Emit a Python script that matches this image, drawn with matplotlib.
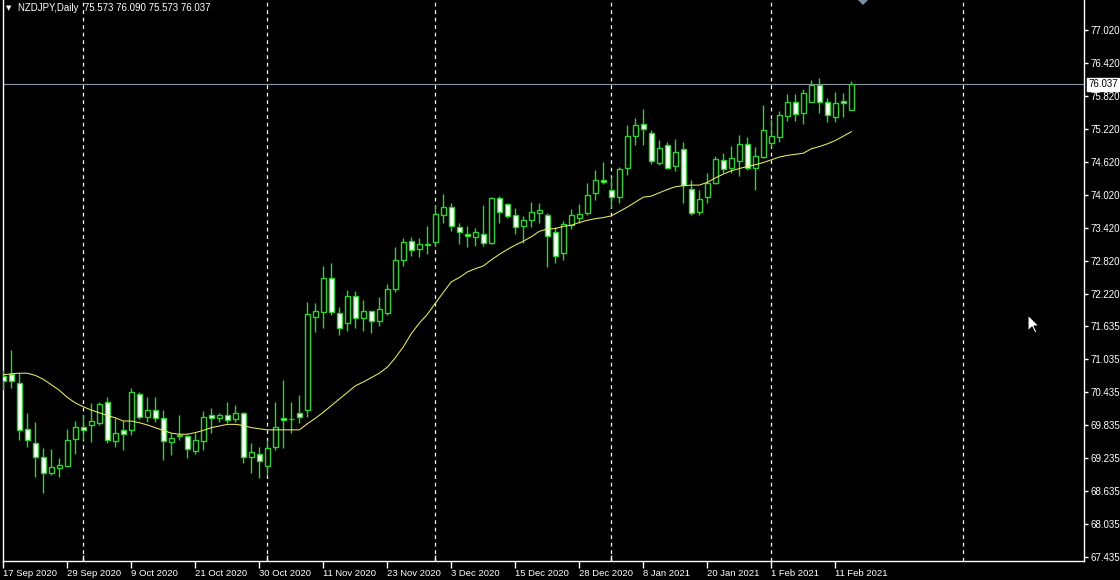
"""
NZDJPY daily candlestick chart, MT4 "green on black" look.
"""

import matplotlib
matplotlib.use("Agg")
import matplotlib.pyplot as plt
from matplotlib.patches import Rectangle, Polygon


# ============================================================================
# DATA
# ============================================================================

SYMBOL = "NZDJPY,Daily"

opens = [70.73, 70.76, 70.60, 69.76, 69.51, 69.26, 68.97, 69.05, 69.09, 69.58,
         69.81, 69.83, 69.87, 70.25, 69.55, 69.75, 69.74, 70.40, 69.99, 70.11,
         69.96, 69.53, 69.63, 69.64, 69.37, 69.55, 70.02, 69.97, 70.02, 69.95,
         70.05, 69.26, 69.32, 69.10, 69.43, 69.97, 69.94, 70.05, 70.12, 71.80,
         71.89, 72.52, 71.88, 71.69, 72.18, 71.78, 71.91, 71.73, 71.87, 72.31,
         72.84, 73.18, 73.03, 73.12, 73.16, 73.66, 73.80, 73.44, 73.31, 73.26,
         73.32, 73.15, 73.96, 73.85, 73.66, 73.46, 73.57, 73.69, 73.66, 73.35,
         72.96, 73.47, 73.61, 73.69, 74.05, 74.29, 74.12, 73.98, 74.51, 75.10,
         75.31, 75.14, 74.61, 74.93, 74.55, 74.85, 74.13, 73.71, 73.98, 74.23,
         74.66, 74.51, 74.64, 74.95, 74.51, 74.72, 74.97, 75.08, 75.46, 75.71,
         75.51, 75.72, 76.02, 75.72, 75.43, 75.73, 75.573]

highs = [70.84, 71.20, 70.78, 70.05, 69.90, 69.42, 69.40, 69.23, 69.76, 69.92,
         70.02, 70.23, 70.26, 70.34, 69.96, 69.91, 70.51, 70.44, 70.34, 70.34,
         70.12, 69.69, 70.02, 69.66, 69.69, 70.10, 70.14, 70.06, 70.26, 70.20,
         70.08, 69.51, 69.44, 69.57, 70.26, 70.66, 70.26, 70.38, 72.07, 72.06,
         72.73, 72.79, 71.99, 72.29, 72.27, 72.11, 71.92, 72.16, 72.41, 73.08,
         73.23, 73.26, 73.23, 73.46, 73.84, 74.04, 73.88, 73.52, 73.46, 73.42,
         73.84, 73.99, 74.00, 73.88, 73.78, 73.63, 73.89, 73.87, 73.69, 73.44,
         73.54, 73.76, 73.86, 74.23, 74.47, 74.62, 74.34, 74.53, 75.29, 75.42,
         75.58, 75.20, 75.02, 74.99, 75.03, 74.99, 74.29, 74.12, 74.42, 74.73,
         74.78, 74.91, 75.12, 75.08, 74.90, 75.66, 75.40, 75.54, 75.86, 75.86,
         75.94, 76.12, 76.14, 75.78, 75.90, 75.87, 76.090]

lows = [70.48, 70.51, 69.57, 69.44, 68.89, 68.61, 68.93, 68.89, 69.08, 69.32,
        69.57, 69.53, 69.84, 69.51, 69.44, 69.38, 69.66, 69.94, 69.90, 69.90,
        69.20, 69.29, 69.57, 69.23, 69.32, 69.38, 69.69, 69.90, 69.87, 69.90,
        69.14, 68.96, 68.87, 68.93, 69.38, 69.42, 69.69, 69.88, 69.99, 71.53,
        71.60, 71.84, 71.47, 71.55, 71.60, 71.55, 71.51, 71.64, 71.84, 72.25,
        72.73, 72.91, 72.89, 72.95, 73.09, 73.52, 73.37, 73.13, 73.08, 73.10,
        73.10, 73.13, 73.52, 73.61, 73.31, 73.14, 73.44, 73.51, 72.71, 72.79,
        72.84, 73.40, 73.51, 73.66, 73.93, 74.22, 73.78, 73.87, 74.38, 74.93,
        74.93, 74.58, 74.57, 74.49, 74.46, 73.87, 73.66, 73.66, 73.87, 74.22,
        74.42, 74.42, 74.37, 74.47, 74.11, 74.69, 74.89, 74.99, 75.37, 75.37,
        75.32, 75.71, 75.52, 75.35, 75.35, 75.43, 75.573]

closes = [70.63, 70.64, 69.75, 69.57, 69.25, 68.96, 69.07, 69.11, 69.57, 69.80,
          69.74, 69.91, 70.22, 69.57, 69.69, 69.67, 70.43, 69.99, 70.11, 69.97,
          69.54, 69.60, 69.66, 69.40, 69.57, 69.98, 69.97, 70.02, 69.93, 70.05,
          69.26, 69.34, 69.19, 69.42, 69.81, 69.93, 69.95, 69.98, 71.85, 71.91,
          72.52, 71.89, 71.61, 72.18, 71.78, 71.91, 71.73, 71.94, 72.32, 72.84,
          73.17, 73.02, 73.13, 73.13, 73.67, 73.80, 73.46, 73.34, 73.28, 73.34,
          73.14, 73.96, 73.71, 73.64, 73.44, 73.56, 73.71, 73.75, 73.28, 72.92,
          73.49, 73.66, 73.67, 74.02, 74.29, 74.25, 73.98, 74.49, 75.09, 75.29,
          75.22, 74.64, 74.87, 74.52, 74.80, 74.20, 73.70, 73.94, 74.23, 74.67,
          74.49, 74.69, 74.95, 74.51, 74.73, 75.20, 75.09, 75.47, 75.71, 75.49,
          75.88, 76.02, 75.71, 75.47, 75.69, 75.69, 76.037]

# moving average line (yellow), as drawn by the terminal
ma_values = [70.75, 70.77, 70.78, 70.78, 70.74, 70.67, 70.57, 70.47, 70.34, 70.24,
             70.17, 70.11, 70.06, 70.01, 69.97, 69.91, 69.91, 69.88, 69.84, 69.79,
             69.74, 69.69, 69.67, 69.67, 69.70, 69.74, 69.79, 69.82, 69.85, 69.85,
             69.83, 69.79, 69.77, 69.75, 69.75, 69.75, 69.75, 69.75, 69.86, 69.96,
             70.07, 70.19, 70.31, 70.43, 70.55, 70.62, 70.70, 70.78, 70.89, 71.06,
             71.26, 71.50, 71.69, 71.85, 72.05, 72.25, 72.44, 72.52, 72.62, 72.68,
             72.73, 72.84, 72.94, 73.03, 73.11, 73.18, 73.26, 73.36, 73.40, 73.41,
             73.45, 73.47, 73.52, 73.56, 73.59, 73.61, 73.64, 73.72, 73.80, 73.89,
             73.98, 74.00, 74.06, 74.12, 74.17, 74.19, 74.20, 74.20, 74.25, 74.33,
             74.40, 74.46, 74.50, 74.54, 74.57, 74.61, 74.66, 74.71, 74.74, 74.76,
             74.78, 74.86, 74.90, 74.95, 75.01, 75.09, 75.17]

# time axis labels (bar index -> text)
date_label_bars = [0, 8, 16, 24, 32, 40, 48, 56, 64, 72, 80, 88, 96, 104]
date_labels = ["17 Sep 2020", "29 Sep 2020", "9 Oct 2020", "21 Oct 2020",
               "30 Oct 2020", "11 Nov 2020", "23 Nov 2020", "3 Dec 2020",
               "15 Dec 2020", "28 Dec 2020", "8 Jan 2021", "20 Jan 2021",
               "1 Feb 2021", "11 Feb 2021"]

# month separators (bar index of first bar in month; last one is in the future)
month_start_bars = [10, 33, 54, 76, 96, 120]

price_ticks = [77.020, 76.420, 75.820, 75.220, 74.620, 74.020, 73.420, 72.820,
               72.220, 71.635, 71.035, 70.435, 69.835, 69.235, 68.635, 68.035,
               67.435]

# ============================================================================
# STYLE
# ============================================================================

BG = "black"
FG = "white"
CANDLE = "#30d030"
MA_COLOR = "#ecec66"
BID_COLOR = "#8a97a8"
FONT = "Liberation Sans"

W, H = 1120, 580
BAR_PX = 8.0          # pixels per bar
FIRST_BAR_PX = 3.3    # x pixel of first bar centre
PLOT_LEFT, PLOT_RIGHT, PLOT_BOTTOM = 2.5, 1084, 561
Y_TOP = 77.5655
PX_PER_UNIT = 55.0

fig = plt.figure(figsize=(W / 100, H / 100), dpi=100, facecolor=BG)
ax = fig.add_axes([PLOT_LEFT / W, (H - PLOT_BOTTOM) / H,
                   (PLOT_RIGHT - PLOT_LEFT) / W, PLOT_BOTTOM / H])
ax.set_facecolor(BG)

ax.set_xlim((PLOT_LEFT - FIRST_BAR_PX) / BAR_PX,
            (PLOT_RIGHT - FIRST_BAR_PX) / BAR_PX)
ax.set_ylim(Y_TOP - PLOT_BOTTOM / PX_PER_UNIT, Y_TOP)

# month grid
for b in month_start_bars:
    ax.axvline(b, color=FG, lw=0.9, ls=(0, (3, 3)), zorder=0)

# bid line
last_close = closes[-1]
ax.axhline(last_close, color=BID_COLOR, lw=0.8, zorder=1)

# candles
body_w = 0.62
for i, (o, h, l, c) in enumerate(zip(opens, highs, lows, closes)):
    top, bot = max(o, c), min(o, c)
    ax.plot([i, i], [top, h], color=CANDLE, lw=1, zorder=3,
            solid_capstyle="butt")
    ax.plot([i, i], [l, bot], color=CANDLE, lw=1, zorder=3,
            solid_capstyle="butt")
    fill = "white" if c < o else "black"
    ax.add_patch(Rectangle((i - body_w / 2, bot), body_w, top - bot,
                           facecolor=fill, edgecolor=CANDLE, lw=1, zorder=4))

# moving average
ax.plot(range(len(ma_values)), ma_values, color=MA_COLOR, lw=0.75, zorder=5)

# frame
for side in ("left", "bottom", "right"):
    ax.spines[side].set_color(FG)
    ax.spines[side].set_linewidth(1)
ax.spines["top"].set_visible(False)

# price axis
ax.yaxis.tick_right()
ax.set_yticks(price_ticks)
ax.set_yticklabels([f"{v:.3f}" for v in price_ticks])
ax.tick_params(axis="y", colors=FG, length=3, width=1, pad=2,
               labelsize=7, direction="out")
for lbl in ax.get_yticklabels():
    lbl.set_fontfamily(FONT)

# time axis
ax.set_xticks(date_label_bars)
ax.set_xticklabels(date_labels)
ax.set_xticks(month_start_bars[:-1], minor=True)
ax.tick_params(axis="x", which="major", colors=FG, length=5, width=1,
               pad=1, labelsize=6.8, direction="out")
ax.tick_params(axis="x", which="minor", colors=FG, length=4, width=1,
               direction="in")
for lbl in ax.get_xticklabels():
    lbl.set_horizontalalignment("left")
    lbl.set_fontfamily(FONT)

# current price tag
ax.annotate(f"{last_close:.3f}", xy=(1.0, last_close),
            xycoords=("axes fraction", "data"),
            xytext=(3, 0), textcoords="offset points",
            ha="left", va="center", fontsize=7, family=FONT, color="black",
            bbox=dict(boxstyle="square,pad=0.15", facecolor="white",
                      edgecolor="white"),
            annotation_clip=False, zorder=10)

# header
header = (f"{SYMBOL}  {opens[-1]:.3f} {highs[-1]:.3f} "
          f"{lows[-1]:.3f} {closes[-1]:.3f}")
fig.text(6 / W, 1 - 8 / H, "\u25bc", color=FG, fontsize=5,
         family="DejaVu Sans", va="center", ha="left")
fig.text(18 / W, 1 - 8 / H, header, color=FG, fontsize=7, family=FONT,
         va="center", ha="left")

# overlay for screen decorations (mouse cursor, drag handle)
over = fig.add_axes([0, 0, 1, 1], facecolor="none")
over.set_xlim(0, W)
over.set_ylim(H, 0)
over.axis("off")
cursor = [(1028, 315), (1028, 331), (1032, 327), (1035, 333),
          (1037, 332), (1034, 326), (1039, 326)]
over.add_patch(Polygon(cursor, closed=True, facecolor="white",
                       edgecolor="black", lw=0.8))
over.add_patch(Polygon([(858, 0), (868, 0), (863, 5)], closed=True,
                       facecolor="#7f8fa6", edgecolor="none"))

fig.savefig("out.png", dpi=100, facecolor=BG)
plt.close(fig)
